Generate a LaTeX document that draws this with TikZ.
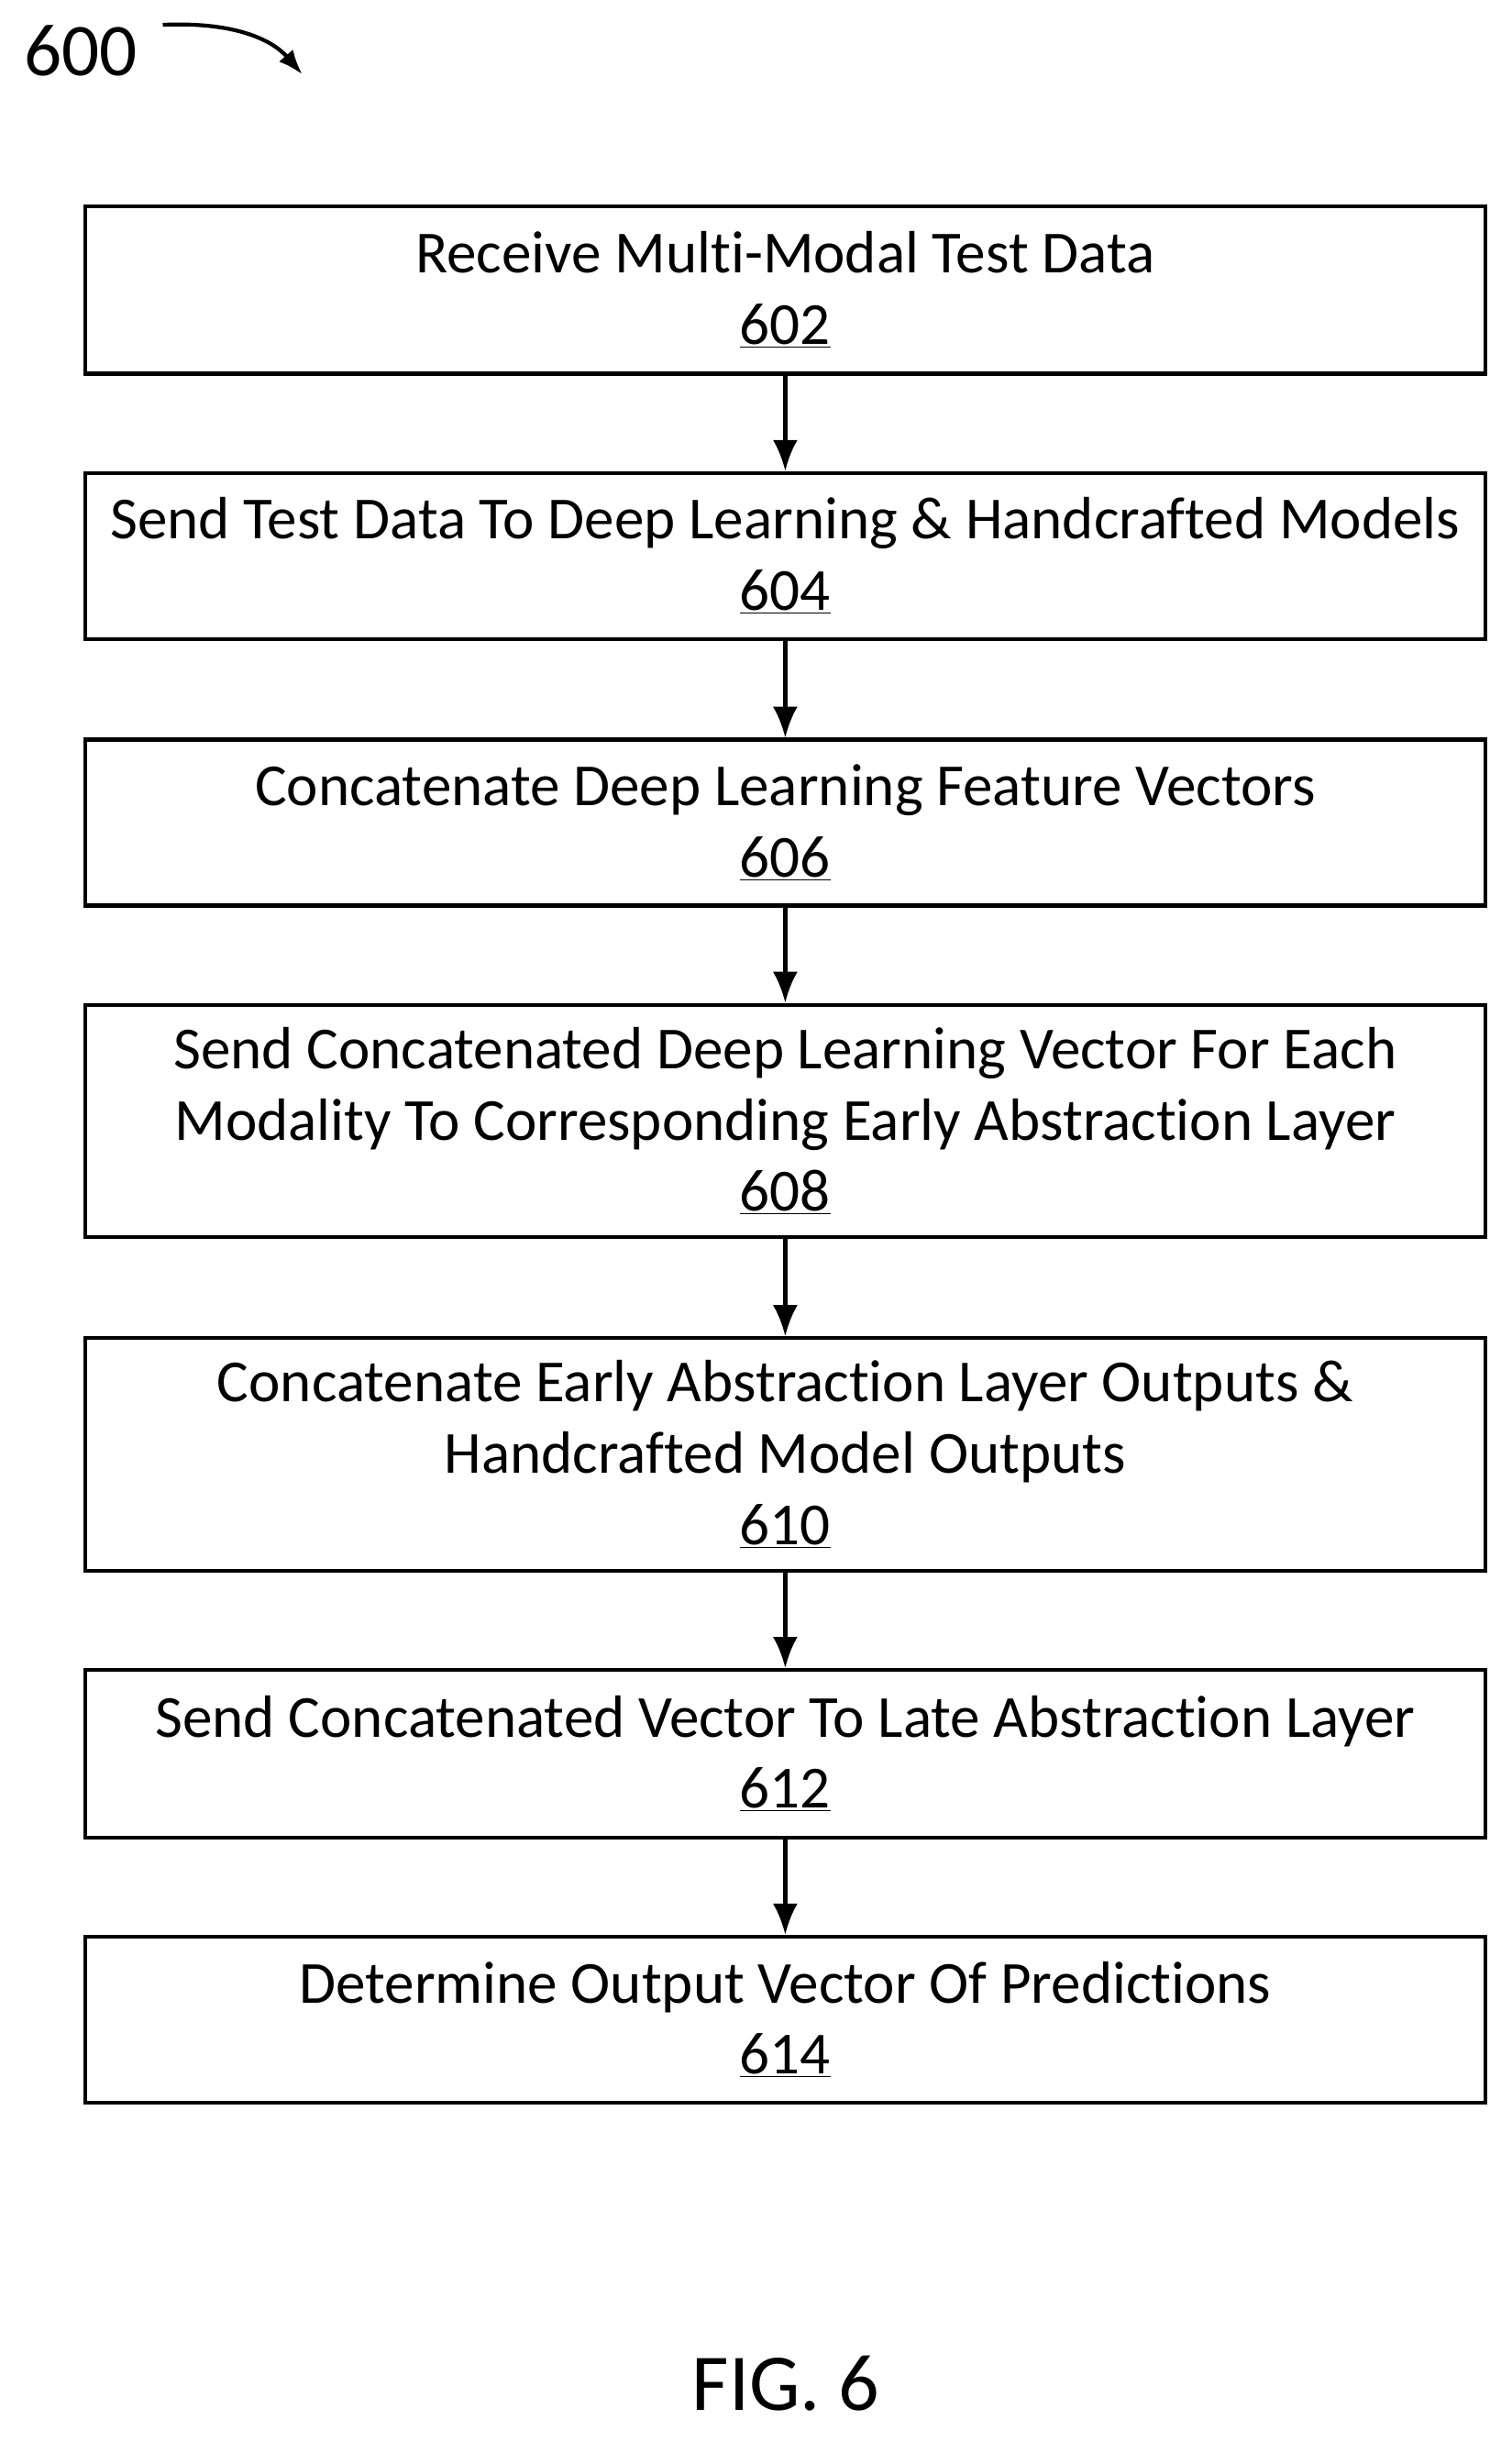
\documentclass[tikz,border=0pt]{standalone}
\usepackage{fontspec}
\setmainfont{Carlito}[Ligatures={NoCommon,NoRequired,NoContextual}]
\usetikzlibrary{positioning,arrows.meta}

\tikzset{
  stepbox/.style={draw, line width=2.5pt, minimum width=903pt, align=center,
    font=\fontsize{38.5}{46}\selectfont, inner sep=0pt},
  flow/.style={-{Latex[length=20pt,width=16pt]}, line width=2.5pt}
}

\begin{document}
\begin{tikzpicture}[x=1pt,y=-1pt]
\useasboundingbox (0,0) rectangle (975,1575);

% figure label
\node[font=\fontsize{48}{50}\selectfont] (lbl) at (52,33) {600};
\coordinate (lblend) at (195,48);
\draw[-{Latex[length=16pt,width=12pt]}, line width=2.5pt] (105,16) .. controls (150,14) and (175,25) .. (lblend);

% steps
\node[stepbox, minimum height=108pt] (s602) at (506.5,187) {Receive Multi-Modal Test Data\\\underline{602}};
\node[stepbox, minimum height=107pt] (s604) at (506.5,358.5) {Send Test Data To Deep Learning \& Handcrafted Models\\\underline{604}};
\node[stepbox, minimum height=107pt] (s606) at (506.5,530.5) {Concatenate Deep Learning Feature Vectors\\\underline{606}};
\node[stepbox, minimum height=150pt] (s608) at (506.5,723) {Send Concatenated Deep Learning Vector For Each\\Modality To Corresponding Early Abstraction Layer\\\underline{608}};
\node[stepbox, minimum height=150pt] (s610) at (506.5,938) {Concatenate Early Abstraction Layer Outputs \&\\Handcrafted Model Outputs\\\underline{610}};
\node[stepbox, minimum height=108pt] (s612) at (506.5,1131) {Send Concatenated Vector To Late Abstraction Layer\\\underline{612}};
\node[stepbox, minimum height=107pt] (s614) at (506.5,1302.5) {Determine Output Vector Of Predictions\\\underline{614}};

% connectors
\draw[flow] (s602) -- (s604);
\draw[flow] (s604) -- (s606);
\draw[flow] (s606) -- (s608);
\draw[flow] (s608) -- (s610);
\draw[flow] (s610) -- (s612);
\draw[flow] (s612) -- (s614);

\node[font=\fontsize{52}{56}\selectfont] (fig) at (507,1537) {FIG. 6};
\end{tikzpicture}
\end{document}
